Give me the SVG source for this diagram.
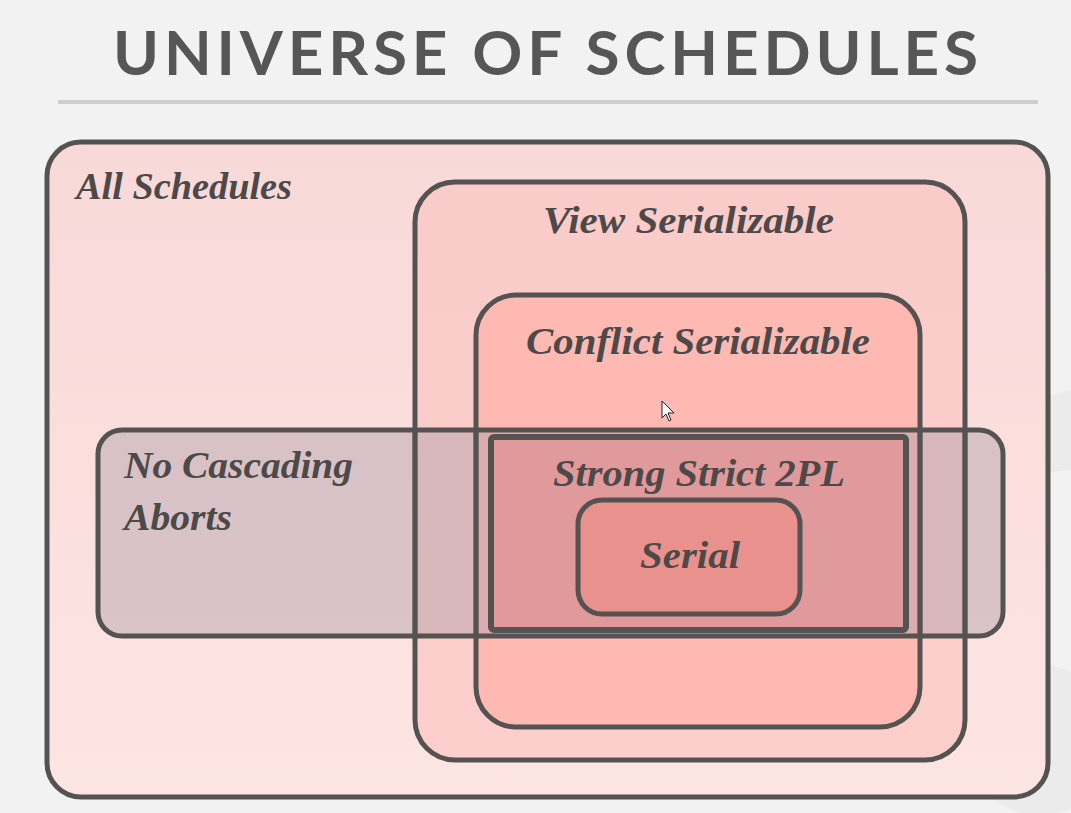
<svg xmlns="http://www.w3.org/2000/svg" width="1071" height="813" viewBox="0 0 1071 813">
  <defs>
    <linearGradient id="outerFill" x1="0" y1="0" x2="0" y2="1">
      <stop offset="0" stop-color="#f7d9d8"/>
      <stop offset="1" stop-color="#fde5e3"/>
    </linearGradient>
    <linearGradient id="viewFill" x1="0" y1="0" x2="0" y2="1">
      <stop offset="0" stop-color="#f9cbc9"/>
      <stop offset="1" stop-color="#fccfcd"/>
    </linearGradient>
  </defs>
  <style>
    .set { stroke: #555352; stroke-width: 5; }
    .label { font-family: "Liberation Serif", "DejaVu Serif", serif; font-style: italic; font-weight: bold; fill: #4e4949; }
    .title { font-family: Lato, "Liberation Sans", sans-serif; font-size: 62px; font-weight: bold; fill: #565656; }
  </style>

  <!-- backdrop -->
  <rect x="0" y="0" width="1071" height="813" fill="#f2f2f2"/>
  <g id="backdrop-marks" fill="#e6e6e6" opacity="0.6">
    <path d="M960 420 L1071 390 L1071 470 L960 480 Z"/>
    <circle cx="1040" cy="740" r="75"/>
  </g>

  <!-- heading -->
  <g id="heading">
    <text class="title" x="113" y="75" textLength="865" lengthAdjust="spacing">UNIVERSE OF SCHEDULES</text>
    <rect x="58" y="100" width="980" height="4" fill="#cfcfcf"/>
  </g>

  <!-- set regions, outermost first -->
  <g id="all-schedules">
    <rect class="set" x="47" y="142" width="1001" height="655" rx="34" fill="url(#outerFill)"/>
    <text class="label" x="76" y="199" font-size="37" textLength="216" lengthAdjust="spacingAndGlyphs">All Schedules</text>
  </g>

  <g id="view-serializable">
    <rect class="set" x="415" y="182" width="550" height="578" rx="40" fill="url(#viewFill)"/>
    <text class="label" x="543" y="233" font-size="37" textLength="291" lengthAdjust="spacingAndGlyphs">View Serializable</text>
  </g>

  <g id="conflict-serializable">
    <rect class="set" x="476" y="295" width="444" height="432" rx="40" fill="#fdb9b2"/>
    <text class="label" x="526" y="354" font-size="37" textLength="344" lengthAdjust="spacingAndGlyphs">Conflict Serializable</text>
  </g>

  <g id="no-cascading-aborts">
    <rect x="98" y="430" width="905" height="206" rx="24" fill="#aa9ba6" fill-opacity="0.42"/>
    <!-- borders of the sets underneath stay visible through the tint -->
    <line class="set" x1="415" y1="432" x2="415" y2="634"/>
    <line class="set" x1="476" y1="432" x2="476" y2="634"/>
    <line class="set" x1="920" y1="432" x2="920" y2="634"/>
    <line class="set" x1="965" y1="432" x2="965" y2="634"/>
    <rect class="set" x="98" y="430" width="905" height="206" rx="24" fill="none"/>
    <text class="label" x="124" y="478" font-size="37" textLength="229" lengthAdjust="spacingAndGlyphs">No Cascading</text>
    <text class="label" x="124" y="530" font-size="37" textLength="108" lengthAdjust="spacingAndGlyphs">Aborts</text>
  </g>

  <g id="strong-strict-2pl">
    <rect x="491" y="437" width="415" height="193" rx="3" fill="#e19a9b" stroke="#555352" stroke-width="6"/>
    <text class="label" x="553" y="486" font-size="37" textLength="292" lengthAdjust="spacingAndGlyphs">Strong Strict 2PL</text>
  </g>

  <g id="serial">
    <rect class="set" x="578" y="500" width="222" height="114" rx="24" fill="#e8918d"/>
    <text class="label" x="640" y="568" font-size="37" textLength="100" lengthAdjust="spacingAndGlyphs">Serial</text>
  </g>

  <!-- pointer -->
  <g id="pointer">
    <path d="M662 401 L662 418 L666 414 L669 421 L671 420 L668 413 L674 413 Z" fill="#ffffff" stroke="#222" stroke-width="1"/>
  </g>

  <!-- no connectors in this figure -->
  <g id="connectors"/>
</svg>
